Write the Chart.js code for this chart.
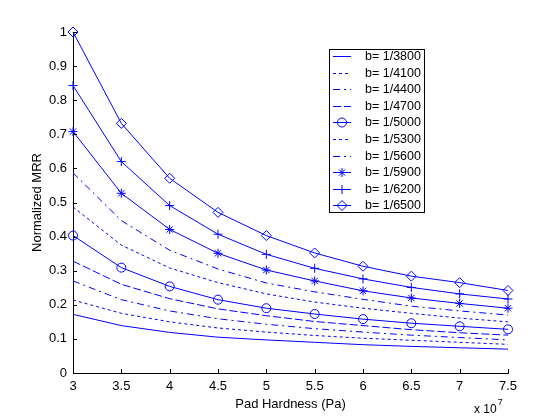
<!DOCTYPE html>
<html>
<head>
<meta charset="utf-8">
<script src="https://cdn.jsdelivr.net/npm/chart.js@4.4.1/dist/chart.umd.min.js"></script>
<style>
  html, body { margin: 0; padding: 0; background: #fff; }
  #wrap { width: 560px; height: 420px; }
</style>
</head>
<body>
<div id="wrap"><canvas id="mrr-chart" width="560" height="420"></canvas></div>
<script>
// Data (pad hardness in units of 1e7 Pa)
const hardness = [3, 3.5, 4, 4.5, 5, 5.5, 6, 6.5, 7, 7.5];
const xTicks = [3, 3.5, 4, 4.5, 5, 5.5, 6, 6.5, 7, 7.5];
const yTicks = [0, 0.1, 0.2, 0.3, 0.4, 0.5, 0.6, 0.7, 0.8, 0.9, 1];

const bLabels = ["b= 1/3800", "b= 1/4100", "b= 1/4400", "b= 1/4700", "b= 1/5000",
                 "b= 1/5300", "b= 1/5600", "b= 1/5900", "b= 1/6200", "b= 1/6500"];

const mrr3800 = [0.172, 0.139, 0.119, 0.105, 0.097, 0.090, 0.083, 0.078, 0.074, 0.070];
const mrr4100 = [0.214, 0.175, 0.150, 0.132, 0.120, 0.110, 0.102, 0.096, 0.090, 0.084];
const mrr4400 = [0.270, 0.215, 0.182, 0.159, 0.143, 0.130, 0.120, 0.111, 0.104, 0.097];
const mrr4700 = [0.328, 0.260, 0.218, 0.188, 0.168, 0.151, 0.139, 0.127, 0.118, 0.111];
const mrr5000 = [0.403, 0.309, 0.254, 0.215, 0.190, 0.173, 0.158, 0.146, 0.137, 0.128];
const mrr5300 = [0.487, 0.375, 0.308, 0.265, 0.232, 0.208, 0.190, 0.175, 0.161, 0.150];
const mrr5600 = [0.587, 0.447, 0.360, 0.305, 0.264, 0.238, 0.216, 0.196, 0.182, 0.170];
const mrr5900 = [0.708, 0.527, 0.421, 0.351, 0.302, 0.270, 0.241, 0.220, 0.204, 0.190];
const mrr6200 = [0.843, 0.620, 0.491, 0.407, 0.348, 0.307, 0.276, 0.251, 0.232, 0.217];
const mrr6500 = [1.000, 0.732, 0.571, 0.471, 0.403, 0.352, 0.313, 0.284, 0.265, 0.242];

const series = [mrr3800, mrr4100, mrr4400, mrr4700, mrr5000, mrr5300, mrr5600, mrr5900, mrr6200, mrr6500];

// matlab style cycle: -  :  -.  --
const SOLID = [], DOTTED = [3, 3], DASHDOT = [7, 4, 2, 4], DASHED = [8, 3];
const dashes = [SOLID, DOTTED, DASHDOT, DASHED, SOLID, DOTTED, DASHDOT, SOLID, SOLID, SOLID];
const markers = [null, null, null, null, 'circle', null, null, 'star', 'cross', 'rectRot'];
const markerSize = [0, 0, 0, 0, 4.5, 0, 0, 4.5, 4.5, 5];

const BLUE = '#0000ff';
const FONT = '"Liberation Sans", Arial, Helvetica, sans-serif';

const datasets = series.map((vals, i) => ({
    label: bLabels[i],
    data: hardness.map((h, j) => ({ x: h, y: vals[j] })),
    borderColor: BLUE,
    borderWidth: 1,
    borderDash: dashes[i],
    pointStyle: markers[i] || 'circle',
    pointRadius: markerSize[i],
    pointHoverRadius: markerSize[i],
    pointBorderColor: BLUE,
    pointBackgroundColor: 'rgba(0,0,0,0)',
    pointBorderWidth: 1,
    fill: false,
    tension: 0,
    clip: false
}));

// Inward tick marks like matlab
const innerTicks = {
    id: 'innerTicks',
    afterDraw(chart) {
        const ctx = chart.ctx;
        const xs = chart.scales.x, ys = chart.scales.y;
        const area = chart.chartArea;
        ctx.save();
        ctx.strokeStyle = '#000';
        ctx.lineWidth = 1;
        ctx.beginPath();
        xTicks.forEach(v => {
            const px = Math.round(xs.getPixelForValue(v)) + 0.5;
            ctx.moveTo(px, area.bottom);
            ctx.lineTo(px, area.bottom - 4);
        });
        yTicks.forEach(v => {
            const py = Math.round(ys.getPixelForValue(v)) + 0.5;
            ctx.moveTo(area.left, py);
            ctx.lineTo(area.left + 4, py);
        });
        ctx.stroke();

        // exponent note under the x axis
        ctx.fillStyle = '#000';
        ctx.textBaseline = 'alphabetic';
        ctx.font = '12px ' + FONT;
        const baseX = area.right - 34;
        ctx.fillText('x 10', baseX, 413);
        const w = ctx.measureText('x 10').width;
        ctx.font = '9px ' + FONT;
        ctx.fillText('7', baseX + w + 1, 405);
        ctx.restore();
    }
};

// Boxed legend inside the axes
const legendBox = {
    id: 'legendBox',
    afterDatasetsDraw(chart) {
        const ctx = chart.ctx;
        const left = 329, top = 49, width = 95, height = 163, rowH = 16.6;
        ctx.save();
        ctx.fillStyle = '#fff';
        ctx.fillRect(left, top, width, height);
        ctx.strokeStyle = '#000';
        ctx.lineWidth = 1;
        ctx.strokeRect(left + 0.5, top + 0.5, width, height);

        chart.data.datasets.forEach((ds, i) => {
            const y = Math.round(top + 7 + i * rowH) + 0.5;
            ctx.lineWidth = 1;
            ctx.strokeStyle = BLUE;
            ctx.setLineDash(ds.borderDash);
            ctx.beginPath();
            ctx.moveTo(left + 4, y);
            ctx.lineTo(left + 22, y);
            ctx.stroke();
            ctx.setLineDash([]);
            if (ds.pointRadius > 0) {
                ctx.strokeStyle = BLUE;
                ctx.fillStyle = 'rgba(0,0,0,0)';
                Chart.helpers.drawPoint(ctx, {
                    pointStyle: ds.pointStyle,
                    radius: ds.pointRadius,
                    borderWidth: 1,
                    rotation: 0
                }, left + 13, y);
            }
            ctx.fillStyle = '#000';
            ctx.font = '12.5px ' + FONT;
            ctx.textBaseline = 'middle';
            ctx.fillText(ds.label, left + 36, y);
        });
        ctx.restore();
    }
};

const mrrCanvas = document.getElementById('mrr-chart');

let mrrChart = new Chart(mrrCanvas, {
    type: 'line',
    data: { datasets: datasets },
    options: {
        responsive: false,
        animation: false,
        devicePixelRatio: 1,
        layout: { padding: { top: 32, right: 52, bottom: 0, left: 0 } },
        scales: {
            x: {
                type: 'linear',
                min: 3,
                max: 7.5,
                afterBuildTicks: s => { s.ticks = xTicks.map(v => ({ value: v })); },
                afterFit: s => { s.height = 47; },
                ticks: {
                    color: '#000',
                    padding: 6,
                    maxRotation: 0,
                    font: { family: FONT, size: 13 },
                    callback: v => String(v)
                },
                grid: { display: false, drawTicks: false },
                border: { display: true, color: '#000', width: 1 },
                title: {
                    display: true,
                    text: 'Pad Hardness (Pa)',
                    color: '#000',
                    font: { family: FONT, size: 13 },
                    padding: { top: 0, bottom: 8 }
                }
            },
            y: {
                min: 0,
                max: 1,
                afterBuildTicks: s => { s.ticks = yTicks.map(v => ({ value: v })); },
                afterFit: s => { s.width = 73; },
                ticks: {
                    color: '#000',
                    padding: 6,
                    font: { family: FONT, size: 13 },
                    callback: v => String(Number(v.toFixed(1)))
                },
                grid: { display: false, drawTicks: false },
                border: { display: true, color: '#000', width: 1 },
                title: {
                    display: true,
                    text: 'Normalized MRR',
                    color: '#000',
                    font: { family: FONT, size: 13 },
                    padding: { top: 30, bottom: 0 }
                }
            }
        },
        plugins: {
            legend: { display: false },
            tooltip: { enabled: false }
        }
    },
    plugins: [innerTicks, legendBox]
});
</script>
</body>
</html>
